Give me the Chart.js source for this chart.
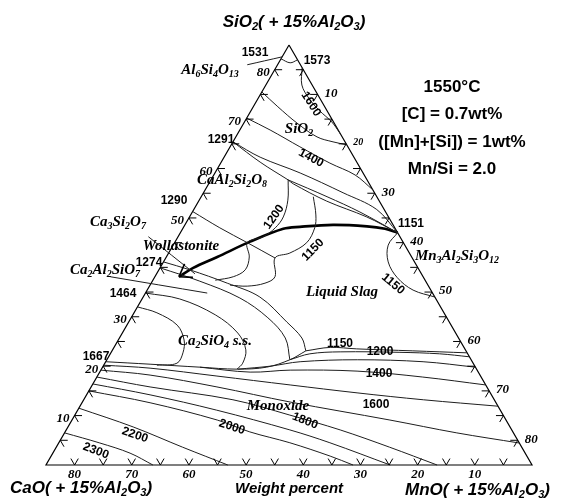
<!DOCTYPE html>
<html>
<head>
<meta charset="utf-8">
<script src="https://cdn.jsdelivr.net/npm/chart.js@4.4.0/dist/chart.umd.min.js"></script>
<style>
  html, body { margin: 0; padding: 0; background: #fff; }
  #wrap { width: 571px; height: 503px; }
</style>
</head>
<body>
<div id="wrap"><canvas id="phase" width="571" height="503"></canvas></div>
<script>
// every curve is a list of [SiO2, MnO] wt% points; each vertex holds 85% (+15% Al2O3)
const TOTAL = 85;
const border = [[85, 0], [0, 0], [0, 85], [85, 0]];

const mulliteTie = [[81.0, -5.3], [82.6, 0]];
const apexArc = [[82.2, 0], [81.4, 2.0], [82.0, 3.0]];
const iso1600Top = [[80.4, 4.6], [76.9, 6.3], [74.1, 9.0], [71.7, 12.0], [69.4, 15.3], [67.0, 18.0]];
const silicaLine = [[75.5, 0], [72.5, 4.3], [69.2, 9.3], [66.4, 14.2], [65.4, 17.5], [64.8, 20.2]];
const iso1400Top = [[70.2, 0], [67.8, 5.3], [64.4, 12.2], [61.1, 19.1], [58.7, 24.7], [55.7, 29.3]];
const from1291a = [[65.4, 0], [62.3, 6.3], [59.1, 14.9], [55.1, 24.4], [51.7, 32.0], [47.0, 38.0]];
const from1291b = [[65.4, 0], [61.3, 6.8], [57.7, 13.5]];
const anorthA = [[57.7, 13.5], [54.3, 22.0], [51.2, 29.3], [47.0, 38.0]];
const anorthB = [[57.7, 13.5], [56.9, 14.8], [53.4, 22.4], [50.2, 31.0], [47.0, 38.0]];
const arc1200 = [[57.7, 13.5], [53.6, 15.5], [50.2, 16.4], [48.0, 16.1], [46.2, 14.9], [45.0, 12.7],
                 [42.1, 14.5], [39.5, 15.1], [38.1, 13.7], [37.4, 10.9]];
const arc1150 = [[54.3, 19.6], [50.6, 21.9], [48.0, 23.0], [45.0, 23.1], [42.9, 21.2], [41.9, 19.1],
                 [38.1, 21.0], [36.8, 19.9], [36.2, 17.1], [36.4, 14.0]];
const wollLine = [[51.3, 0], [48.0, 6.4], [45.0, 12.7], [41.9, 19.1]];
const liquidPath = [[47.0, 38.0], [47.8, 35.4], [48.3, 32.0], [48.6, 25.9], [48.2, 20.3], [47.8, 17.6],
                    [45.2, 13.1], [42.1, 8.9], [39.9, 5.8], [38.1, 4.2]];
const arcMn1150 = [[47.0, 38.0], [44.5, 37.6], [41.1, 39.3], [37.9, 42.5], [35.4, 46.5], [34.0, 51.0]];
const rankinTie = [[46.2, -5.2], [38.7, 6.7]];
const gehlTie = [[38.1, -7.8], [34.8, 10.8]];

const c2sArc1 = [[41.1, 0], [39.5, 5.4], [36.8, 13.3], [34.0, 20.4], [28.9, 27.7], [25.7, 31.9], [23.1, 33.9]];
const c2sArc2 = [[39.9, 0], [37.2, 8.3], [33.8, 17.0], [29.8, 23.9], [25.7, 29.0], [21.3, 32.0]];
const c2sArc3 = [[34.8, 0], [33.6, 6.6], [30.4, 14.4], [26.7, 20.2], [23.3, 23.3], [20.6, 24.1], [19.4, 23.7]];
const c2sArc4 = [[32.0, 0], [30.8, 4.0], [28.3, 8.8], [25.3, 11.5], [22.7, 12.6], [20.6, 12.6], [20.2, 9.3]];
const c2sBoundary = [[20.9, 0], [20.4, 8.0], [19.8, 17.0], [19.4, 23.7], [19.8, 28.7], [21.3, 32.0], [23.1, 33.9]];

const low1150 = [[23.1, 33.9], [23.8, 37.8], [23.5, 42.6], [23.1, 52.6], [22.7, 62.3]];
const low1200 = [[21.3, 32.0], [22.5, 34.9], [22.9, 40.0], [22.8, 50.5], [22.5, 57.6], [21.9, 63.1]];
const low1300 = [[19.4, 23.9], [20.0, 29.2], [20.9, 34.0], [21.3, 43.8], [20.9, 55.5], [19.8, 65.2]];
const low1400 = [[19.8, 17.0], [18.8, 26.3], [19.2, 33.1], [19.0, 44.9], [17.8, 57.0], [16.2, 68.8]];
const low1600 = [[20.2, 0], [19.6, 8.4], [18.0, 20.9], [16.2, 34.6], [14.6, 47.1], [13.2, 59.4], [11.9, 73.1]];
const low1700 = [[19.2, 0], [18.2, 9.1], [15.8, 22.0], [12.75, 36.3], [9.1, 55.6], [6.5, 68.6], [4.45, 80.55]];
const low1800 = [[17.8, 0], [15.8, 10.3], [13.2, 26.1], [10.1, 37.6], [7.1, 47.9], [3.6, 58.3], [0, 68.4]];
const low1900 = [[16.4, 0], [14.2, 11.1], [11.1, 24.3], [7.1, 39.1], [4.5, 47.4], [0, 60.2]];
const low2000 = [[15.0, 0], [12.6, 11.9], [9.1, 25.4], [6.7, 32.3], [4.5, 40.4], [1.8, 48.8], [0, 53.7]];
const low2200 = [[11.5, 0], [7.7, 11.4], [3.6, 22.1], [0, 31.8]];
const low2300 = [[6.5, 0], [4.45, 7.2], [2.4, 13.5], [0, 18.7]];

const tickSteps = [5, 10, 15, 20, 25, 30, 35, 40, 45, 50, 55, 60, 65, 70, 75, 80];
const leftLabels = [10, 20, 30, 50, 60, 70, 80];
const bottomLabels = [10, 20, 30, 40, 50, 60, 70, 80];
const rightLabels = [10, 20, 30, 40, 50, 60, 70, 80];

const H = Math.sqrt(3) / 2;
const toXY = ([s, m]) => ({ x: m + s / 2, y: s * H });

const thin = [mulliteTie, apexArc, iso1600Top, silicaLine, iso1400Top, from1291a, from1291b, anorthA, anorthB,
  arc1200, arc1150, wollLine, arcMn1150, rankinTie, gehlTie, c2sArc1, c2sArc2, c2sArc3, c2sArc4, c2sBoundary,
  low1150, low1200, low1300, low1400, low1600, low1700, low1800, low1900, low2000, low2200, low2300];

const datasets = thin.map(c => ({
  data: c.map(toXY), showLine: true, borderColor: '#1e1e1e', borderWidth: 1,
  pointRadius: 0, tension: 0.35, clip: false
}));
datasets.push({ data: liquidPath.map(toXY), showLine: true, borderColor: '#000', borderWidth: 2.6,
  pointRadius: 0, tension: 0.35, clip: false });
datasets.push({ data: border.map(toXY), showLine: true, borderColor: '#000', borderWidth: 1.2,
  pointRadius: 0, tension: 0, clip: false });

// text in pixel positions
const tempLabels = [
  ['1531', 255, 53, 0], ['1573', 317, 61, 0], ['1600', 311, 104, 58], ['1400', 311, 158, 28],
  ['1291', 221, 140, 0], ['1290', 174, 201, 0], ['1274', 149, 263, 0], ['1464', 123, 294, 0],
  ['1667', 96, 357, 0], ['1200', 274, 217, -55], ['1150', 313, 250, -45], ['1151', 411, 224, 0],
  ['1150', 393, 284, 40], ['1150', 340, 344, 0], ['1200', 380, 352, 0], ['1400', 379, 374, 0],
  ['1600', 376, 405, 0], ['1800', 305, 421, 22], ['2000', 232, 427, 18], ['2200', 135, 435, 19],
  ['2300', 96, 451, 21]
];
const phaseLabels = [
  ['Al_6Si_4O_13', 210, 70], ['SiO_2', 299, 129], ['CaAl_2Si_2O_8', 232, 180], ['Ca_3Si_2O_7', 118, 222],
  ['Wollastonite', 181, 246], ['Ca_2Al_2SiO_7', 105, 270], ['Liquid Slag', 342, 292],
  ['Mn_3Al_2Si_3O_12', 457, 256], ['Ca_2SiO_4 s.s.', 215, 341], ['Monoxide', 278, 406]
];
const infoLines = ['1550°C', '[C] = 0.7wt%', '([Mn]+[Si]) = 1wt%', 'Mn/Si = 2.0'];

function parseRich(str) {
  const segs = [];
  let buf = '', i = 0;
  while (i < str.length) {
    if (str[i] === '_') {
      if (buf) { segs.push({ t: buf, sub: false }); buf = ''; }
      i++;
      let d = '';
      while (i < str.length && /[0-9]/.test(str[i])) { d += str[i]; i++; }
      segs.push({ t: d, sub: true });
    } else { buf += str[i]; i++; }
  }
  if (buf) segs.push({ t: buf, sub: false });
  return segs;
}

function drawRich(ctx, str, x, y, size, family, style, align) {
  const segs = parseRich(str);
  const main = style + ' ' + size + 'px ' + family;
  const sub = style + ' ' + Math.round(size * 0.65) + 'px ' + family;
  let w = 0;
  segs.forEach(s => { ctx.font = s.sub ? sub : main; s.w = ctx.measureText(s.t).width; w += s.w; });
  let cx = align === 'center' ? x - w / 2 : (align === 'right' ? x - w : x);
  ctx.textAlign = 'left';
  ctx.textBaseline = 'middle';
  segs.forEach(s => {
    ctx.font = s.sub ? sub : main;
    ctx.fillText(s.t, cx, s.sub ? y + size * 0.3 : y);
    cx += s.w;
  });
}

const ternaryDecor = {
  id: 'ternaryDecor',
  afterDraw(chart) {
    const ctx = chart.ctx;
    const xs = chart.scales.x, ys = chart.scales.y;
    const P = (s, m) => ({ x: xs.getPixelForValue(m + s / 2), y: ys.getPixelForValue(s * H) });
    ctx.save();
    ctx.strokeStyle = '#000';
    ctx.lineWidth = 1;
    const d = 1.3;
    const arm = (a, b) => { ctx.beginPath(); ctx.moveTo(a.x, a.y); ctx.lineTo(b.x, b.y); ctx.stroke(); };
    tickSteps.forEach(v => {
      // left edge (SiO2 scale)
      let o = P(v, 0);
      arm(o, P(v, d)); arm(o, P(v - d, d));
      // bottom edge (CaO scale)
      o = P(0, TOTAL - v);
      arm(o, P(d, TOTAL - v)); arm(o, P(d, TOTAL - v - d));
      // right edge (MnO scale)
      o = P(TOTAL - v, v);
      arm(o, P(TOTAL - v, v - d)); arm(o, P(TOTAL - v - d, v));
    });

    ctx.fillStyle = '#000';
    ctx.textBaseline = 'middle';
    ctx.font = 'italic bold 13px "Liberation Serif"';
    ctx.textAlign = 'right';
    leftLabels.forEach(v => { const o = P(v, 0); ctx.fillText(String(v), o.x - 5, o.y + 3); });
    ctx.textAlign = 'center';
    bottomLabels.forEach(v => { const o = P(0, TOTAL - v); ctx.fillText(String(v), o.x, o.y + 10); });
    ctx.textAlign = 'left';
    rightLabels.forEach(v => {
      const o = P(TOTAL - v, v);
      ctx.font = v === 20 ? 'italic bold 10px "Liberation Serif"' : 'italic bold 13px "Liberation Serif"';
      ctx.fillText(String(v), o.x + 7, o.y - 1);
    });

    // arrow head at the end of the thick path
    const n = liquidPath.length;
    const tip = P(liquidPath[n - 1][0], liquidPath[n - 1][1]);
    const prev = P(liquidPath[n - 2][0], liquidPath[n - 2][1]);
    const ang = Math.atan2(prev.y - tip.y, prev.x - tip.x);
    ctx.lineWidth = 1.6;
    [-0.6, 0.6].forEach(da => {
      arm(tip, { x: tip.x + 14 * Math.cos(ang + da), y: tip.y + 14 * Math.sin(ang + da) });
    });

    ctx.font = 'bold 12px "Liberation Sans"';
    ctx.textAlign = 'center';
    tempLabels.forEach(([t, x, y, a]) => {
      ctx.save();
      ctx.translate(x, y);
      ctx.rotate(a * Math.PI / 180);
      ctx.fillText(t, 0, 0);
      ctx.restore();
    });

    phaseLabels.forEach(([t, x, y]) => drawRich(ctx, t, x, y, 15, '"Liberation Serif"', 'italic bold', 'center'));

    drawRich(ctx, 'SiO_2( + 15%Al_2O_3)', 294, 22, 17, '"Liberation Sans"', 'italic bold', 'center');
    drawRich(ctx, 'CaO( + 15%Al_2O_3)', 10, 488, 17, '"Liberation Sans"', 'italic bold', 'left');
    drawRich(ctx, 'MnO( + 15%Al_2O_3)', 405, 490, 17, '"Liberation Sans"', 'italic bold', 'left');
    ctx.font = 'italic bold 15px "Liberation Sans"';
    ctx.textAlign = 'left';
    ctx.fillText('Weight percent', 235, 489);

    ctx.font = 'bold 17px "Liberation Sans"';
    ctx.textAlign = 'center';
    infoLines.forEach((t, i) => ctx.fillText(t, 452, 87 + i * 27.5));
    ctx.restore();
  }
};

new Chart(document.getElementById('phase'), {
  type: 'scatter',
  data: { datasets },
  options: {
    responsive: false,
    animation: false,
    layout: { padding: { left: 46, right: 39, top: 45, bottom: 38 } },
    scales: {
      x: { type: 'linear', min: 0, max: TOTAL, display: false },
      y: { type: 'linear', min: 0, max: TOTAL * H, display: false }
    },
    plugins: { legend: { display: false }, tooltip: { enabled: false } }
  },
  plugins: [ternaryDecor]
});
</script>
</body>
</html>
